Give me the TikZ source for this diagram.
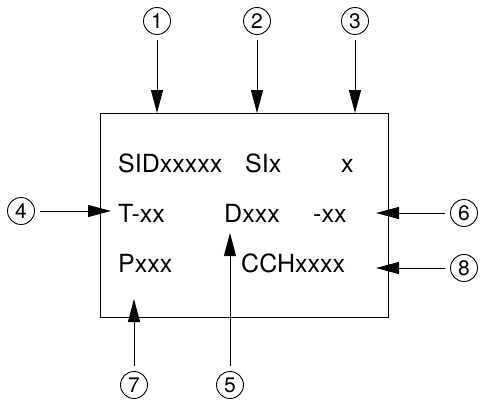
\documentclass[tikz,border=0pt]{standalone}
\usepackage{fontspec}
\setmainfont{TeX Gyre Heros}
\usetikzlibrary{arrows.meta}

\begin{document}
\begin{tikzpicture}[x=1pt, y=-1pt, >={Triangle[length=23pt, width=12pt]},
  font=\fontsize{25}{28}\selectfont,
  num/.style={draw, circle, minimum size=27pt, inner sep=0pt, line width=0.9pt, font=\fontsize{21}{24}\selectfont},
  field/.style={anchor=base west, inner sep=0pt},
  callout/.style={->, line width=0.9pt, shorten <=5pt}]

  \useasboundingbox (0,0) rectangle (481,402);

  % Display frame
  \draw[line width=1pt] (100,113) rectangle (388,317);

  % Display fields (three rows)
  \node[field] (sid)  at (118,172) {SIDxxxxx};
  \node[field] (si)   at (245,172) {SIx};
  \node[field] (x)    at (341,172) {x};
  \node[field] (temp) at (118,222) {T-xx};
  \node[field] (dxxx) at (224,222) {Dxxx};
  \node[field] (neg)  at (313,222) {-xx};
  \node[field] (pxxx) at (118,272) {Pxxx};
  \node[field] (cch)  at (241,272) {CCHxxxx};

  % Numbered markers
  \foreach \n/\x/\y in {1/157/21, 2/257/21, 3/355/21, 4/21/211,
                        5/230/385, 6/464/213, 7/134/385, 8/464/268} {
    \node[num] (n\n) at (\x,\y) {\n};
  }

  % Arrow end points
  \coordinate (t1) at (157,113);
  \coordinate (t2) at (257,113);
  \coordinate (t3) at (355,113);
  \coordinate (t4) at (111,211);
  \coordinate (t5) at (230,233);
  \coordinate (t6) at (376,213);
  \coordinate (t7) at (134,299);
  \coordinate (t8) at (376,268);

  % Callout arrows
  \foreach \n in {1,...,8} {
    \draw[callout] (n\n) -- (t\n);
  }
\end{tikzpicture}
\end{document}
